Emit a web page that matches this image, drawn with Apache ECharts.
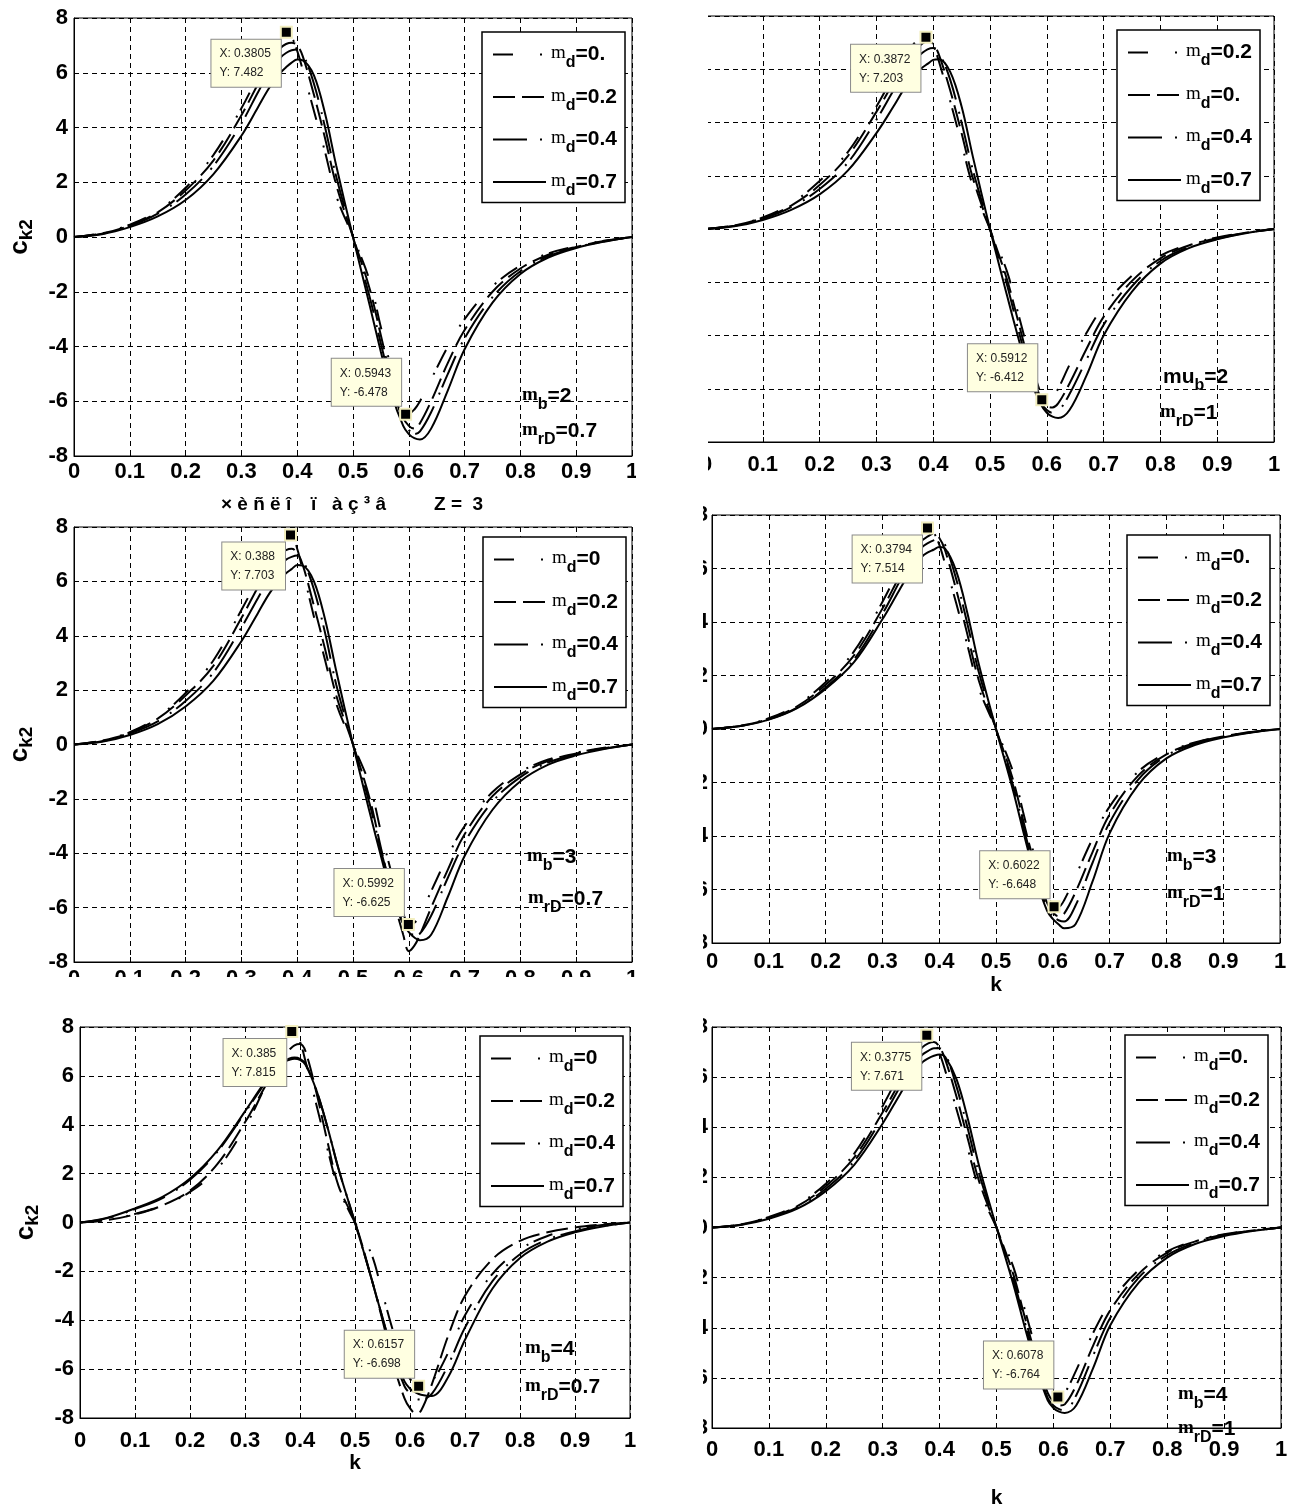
<!DOCTYPE html>
<html><head><meta charset="utf-8">
<script src="https://cdn.jsdelivr.net/npm/echarts@6/dist/echarts.min.js"></script>
<style>html,body{margin:0;padding:0;background:#fff}#c{width:1291px;height:1510px}</style>
</head><body><div id="c"></div>
<script>
// ---------------- DATA ----------------
const X = [0,0.05,0.1,0.15,0.2,0.25,0.3,0.33,0.35,0.37,0.38,0.39,0.4,0.41,0.43,0.45,0.47,0.5,0.53,0.55,0.57,0.59,0.6,0.61,0.62,0.64,0.67,0.7,0.75,0.8,0.85,0.9,0.95,1];
const xTicks = [0,0.1,0.2,0.3,0.4,0.5,0.6,0.7,0.8,0.9,1];
const yTicks = [-8,-6,-4,-2,0,2,4,6,8];

// panel 1: mb=2, mrD=0.7
const p1a = [0,0.15,0.45,0.95,1.8,3.0,4.7,5.9,6.7,7.3,7.48,7.3,6.8,6.1,4.6,3.1,1.5,0,-1.6,-3.3,-4.9,-6.3,-6.45,-6.3,-6.0,-5.2,-4.0,-3.0,-1.8,-1.05,-0.6,-0.33,-0.14,0];
const p1b = [0,0.13,0.42,0.9,1.7,2.8,4.45,5.6,6.35,6.9,7.05,7.1,7.0,6.6,5.2,3.6,1.9,0,-1.9,-3.6,-5.3,-6.6,-6.9,-7.0,-6.8,-6.0,-4.6,-3.4,-2.0,-1.15,-0.65,-0.36,-0.15,0];
const p1c = [0,0.12,0.4,0.85,1.55,2.6,4.15,5.3,6.0,6.55,6.72,6.82,6.85,6.7,5.6,4.0,2.2,0,-2.2,-3.9,-5.5,-6.7,-7.05,-7.2,-7.1,-6.4,-5.0,-3.7,-2.2,-1.25,-0.7,-0.38,-0.16,0];
const p1d = [0,0.1,0.36,0.75,1.35,2.3,3.7,4.75,5.45,6.0,6.2,6.37,6.48,6.45,5.9,4.5,2.6,0,-2.5,-4.2,-5.8,-6.9,-7.2,-7.35,-7.4,-7.0,-5.6,-4.1,-2.4,-1.35,-0.75,-0.4,-0.17,0];
// panel 2: mb=2, mrD=1
const p2a = [0,0.14,0.43,0.95,1.8,2.9,4.6,5.75,6.5,7.05,7.17,7.2,6.9,6.3,4.8,3.2,1.6,0,-1.6,-3.2,-4.8,-6.2,-6.4,-6.3,-6.0,-5.1,-3.9,-2.9,-1.75,-1.0,-0.58,-0.32,-0.13,0];
const p2b = [0,0.13,0.41,0.88,1.65,2.75,4.4,5.5,6.2,6.75,6.95,7.05,6.95,6.55,5.2,3.6,1.9,0,-1.9,-3.5,-5.1,-6.4,-6.65,-6.7,-6.55,-5.8,-4.5,-3.3,-1.95,-1.1,-0.62,-0.34,-0.14,0];
const p2c = [0,0.12,0.38,0.82,1.5,2.5,4.1,5.2,5.9,6.4,6.6,6.75,6.8,6.65,5.6,4.0,2.2,0,-2.1,-3.8,-5.3,-6.5,-6.8,-6.9,-6.85,-6.2,-4.9,-3.6,-2.15,-1.2,-0.68,-0.37,-0.15,0];
const p2d = [0,0.1,0.34,0.72,1.3,2.2,3.6,4.6,5.3,5.85,6.05,6.2,6.35,6.38,5.9,4.6,2.7,0,-2.5,-4.1,-5.6,-6.6,-6.9,-7.05,-7.1,-6.8,-5.5,-4.0,-2.35,-1.3,-0.72,-0.39,-0.16,0];
// panel 3: mb=3, mrD=0.7
const p3a = [0,0.15,0.45,1.0,1.9,3.1,4.95,6.1,6.9,7.45,7.65,7.7,7.2,6.4,4.7,3.1,1.5,0,-1.5,-3.2,-4.8,-6.2,-6.6,-6.55,-6.3,-5.4,-4.1,-3.0,-1.75,-1.0,-0.55,-0.3,-0.12,0];
const p3b = [0,0.14,0.43,0.95,1.8,2.9,4.65,5.8,6.5,7.0,7.15,7.2,7.05,6.6,5.1,3.5,1.8,0,-2.0,-3.8,-5.5,-7.0,-7.6,-7.4,-7.0,-6.0,-4.6,-3.3,-1.9,-1.1,-0.6,-0.33,-0.14,0];
const p3c = [0,0.12,0.4,0.85,1.6,2.65,4.3,5.4,6.1,6.6,6.8,6.9,6.95,6.8,5.7,4.1,2.2,0,-2.2,-3.9,-5.4,-6.6,-6.9,-7.0,-6.95,-6.3,-4.9,-3.6,-2.1,-1.2,-0.66,-0.36,-0.15,0];
const p3d = [0,0.1,0.35,0.75,1.4,2.35,3.8,4.85,5.55,6.1,6.3,6.45,6.6,6.58,6.0,4.6,2.7,0,-2.5,-4.1,-5.6,-6.6,-6.9,-7.1,-7.2,-7.0,-5.6,-4.1,-2.4,-1.35,-0.74,-0.4,-0.17,0];
// panel 4: mb=3, mrD=1
const p4a = [0,0.12,0.4,0.9,1.75,2.9,4.75,6.0,6.8,7.4,7.5,7.35,6.9,6.2,4.7,3.1,1.5,0,-1.6,-3.3,-4.9,-6.2,-6.55,-6.65,-6.4,-5.5,-4.1,-2.9,-1.6,-0.9,-0.5,-0.27,-0.11,0];
const p4b = [0,0.12,0.38,0.85,1.65,2.75,4.5,5.7,6.45,7.05,7.2,7.3,7.15,6.7,5.2,3.5,1.8,0,-1.9,-3.6,-5.2,-6.5,-6.85,-7.0,-6.9,-6.1,-4.6,-3.2,-1.75,-0.95,-0.52,-0.28,-0.11,0];
const p4c = [0,0.11,0.36,0.8,1.55,2.6,4.3,5.5,6.25,6.8,6.95,7.05,7.1,6.9,5.6,3.9,2.1,0,-2.1,-3.8,-5.4,-6.7,-7.0,-7.15,-7.2,-6.6,-5.0,-3.5,-1.9,-1.0,-0.55,-0.3,-0.12,0];
const p4d = [0,0.11,0.35,0.78,1.5,2.5,4.1,5.2,5.9,6.45,6.6,6.7,6.8,6.75,5.9,4.3,2.4,0,-2.3,-4.0,-5.6,-6.8,-7.1,-7.3,-7.45,-7.3,-5.7,-3.9,-2.1,-1.1,-0.6,-0.32,-0.13,0];
// panel 5: mb=4, mrD=0.7
const p5a = [0,0.1,0.35,0.7,1.25,2.2,3.9,5.25,6.3,7.3,7.7,7.8,7.4,6.6,4.8,3.0,1.4,0,-1.3,-2.9,-4.5,-5.9,-6.4,-6.6,-6.7,-6.5,-5.3,-3.8,-2.1,-1.1,-0.55,-0.28,-0.1,0];
const p5b = [0,0.1,0.33,0.7,1.3,2.4,4.1,5.3,6.1,6.8,7.05,7.25,7.3,7.0,5.3,3.3,1.5,0,-2.3,-4.0,-5.8,-7.2,-7.6,-7.8,-7.7,-6.6,-4.6,-3.0,-1.5,-0.75,-0.4,-0.2,-0.08,0];
const p5c = [0,0.18,0.55,1.0,1.75,2.9,4.5,5.5,6.1,6.55,6.7,6.75,6.7,6.5,5.4,3.9,2.2,0,-2.3,-3.9,-5.5,-6.7,-7.0,-7.2,-7.25,-7.0,-5.8,-4.3,-2.4,-1.3,-0.7,-0.36,-0.15,0];
const p5d = [0,0.2,0.58,1.05,1.8,2.95,4.55,5.55,6.15,6.55,6.65,6.7,6.65,6.45,5.4,3.9,2.2,0,-2.3,-3.9,-5.4,-6.5,-6.8,-6.95,-7.05,-7.1,-6.3,-4.8,-2.7,-1.45,-0.78,-0.4,-0.16,0];
// panel 6: mb=4, mrD=1
const p6a = [0,0.12,0.42,0.9,1.75,2.95,4.85,6.15,6.95,7.55,7.67,7.45,6.95,6.25,4.7,3.1,1.5,0,-1.6,-3.3,-4.9,-6.3,-6.7,-6.76,-6.6,-5.7,-4.2,-3.0,-1.7,-0.95,-0.52,-0.27,-0.11,0];
const p6b = [0,0.12,0.4,0.85,1.65,2.8,4.6,5.8,6.6,7.2,7.35,7.4,7.2,6.7,5.2,3.5,1.8,0,-1.9,-3.6,-5.2,-6.6,-6.95,-7.1,-7.05,-6.3,-4.7,-3.3,-1.85,-1.0,-0.55,-0.29,-0.12,0];
const p6c = [0,0.11,0.38,0.8,1.55,2.65,4.4,5.6,6.35,6.9,7.05,7.15,7.15,6.95,5.6,3.9,2.1,0,-2.1,-3.8,-5.4,-6.8,-7.1,-7.25,-7.3,-6.7,-5.1,-3.6,-2.0,-1.1,-0.6,-0.31,-0.13,0];
const p6d = [0,0.1,0.35,0.75,1.45,2.5,4.15,5.3,6.05,6.6,6.75,6.85,6.9,6.8,5.9,4.3,2.4,0,-2.3,-4.0,-5.6,-6.9,-7.2,-7.35,-7.4,-7.1,-5.6,-3.9,-2.2,-1.2,-0.65,-0.34,-0.14,0];

// data tips [x, y]
const tipPeak = [[0.3805,7.482],[0.3872,7.203],[0.388,7.703],[0.3794,7.514],[0.385,7.815],[0.3775,7.671]];
const tipLow  = [[0.5943,-6.478],[0.5912,-6.412],[0.5992,-6.625],[0.6022,-6.648],[0.6157,-6.698],[0.6078,-6.764]];

// legend labels (md values) per panel
const legendMd = [['0.','0.2','0.4','0.7'],['0.2','0.','0.4','0.7'],['0','0.2','0.4','0.7'],['0.','0.2','0.4','0.7'],['0','0.2','0.4','0.7'],['0.','0.2','0.4','0.7']];
const mbLabel = [['m','2'],['mu','2'],['m','3'],['m','3'],['m','4'],['m','4']];
const mrdLabel = ['0.7','1','0.7','1','0.7','1'];
const titleParts = ['× è ñ ë î', 'ï   à ç ³ â', 'Z =  3'];

// ---------------- LAYOUT / STYLE ----------------
const curves = [[p1a,p1b,p1c,p1d],[p2a,p2b,p2c,p2d],[p3a,p3b,p3c,p3d],[p4a,p4b,p4c,p4d],[p5a,p5b,p5c,p5d],[p6a,p6b,p6c,p6d]];
const layout = [
  {left:74, top:18, width:558, height:438, xm:5, ym:6, yName:true, legend:[482,32], mb:[522,381], mrd:[522,416]},
  {left:706, top:16, width:568, height:426, xm:12, ym:4, yName:false, legend:[1117,30], mb:[1163,362], mrd:[1160,398]},
  {left:74, top:527, width:558, height:435, xm:6, ym:6, yName:true, legend:[483,537], mb:[527,842], mrd:[528,884]},
  {left:712, top:515, width:568, height:428, xm:8, ym:4, yName:false, legend:[1127,535], mb:[1167,842], mrd:[1167,879], xName:32},
  {left:80, top:1027, width:550, height:391, xm:12, ym:6, yName:true, legend:[480,1036], mb:[525,1334], mrd:[525,1372], xName:32},
  {left:712, top:1027, width:569, height:402, xm:11, ym:4, yName:false, legend:[1125,1035], mb:[1178,1380], mrd:[1178,1414], xName:60}
];
const dashes = [[20,27,2,6],[22,7],[34,13,2,6],'solid'];

const SANS = '"Liberation Sans", Arial, Helvetica, sans-serif';
const NARROW = '"Liberation Sans Narrow", "Liberation Sans", Arial, sans-serif';
const SERIF = '"Liberation Serif", "Times New Roman", serif';

const symRich = {
  m: {fontFamily: SERIF, fontSize: 19, color: '#000', lineHeight: 16, padding: [0,0,2,0]},
  s: {fontFamily: SANS, fontWeight: 'bold', fontSize: 16, color: '#000', lineHeight: 13, padding: [17,0,0,0]},
  v: {fontFamily: SANS, fontWeight: 'bold', fontSize: 21, color: '#000', lineHeight: 30}
};
const tipRich = {t: {fontFamily: SANS, fontSize: 12, color: '#222', lineHeight: 19, align: 'left'}};

const grids = [], xAxes = [], yAxes = [], series = [], legends = [], titles = [];
const fmtX = v => (Math.abs(v) < 1e-9 ? '0' : (Math.abs(v-1) < 1e-9 ? '1' : String(Math.round(v*10)/10)));

layout.forEach((L, i) => {
  grids.push({left: L.left, top: L.top, width: L.width, height: L.height, show: true, borderColor: '#000', borderWidth: 1, backgroundColor: 'transparent'});
  xAxes.push({
    type: 'value', gridIndex: i, min: xTicks[0], max: xTicks[xTicks.length-1], interval: 0.1,
    axisLine: {onZero: false, lineStyle: {color: '#000', width: 1}},
    axisTick: {inside: true, length: 5, lineStyle: {color: '#000'}},
    axisLabel: {margin: L.xm, color: '#000', fontFamily: NARROW, fontWeight: 'bold', fontSize: 22, formatter: fmtX},
    splitLine: {show: true, lineStyle: {color: '#000', type: [5,4], width: 1}},
    name: L.xName ? 'k' : '', nameLocation: 'middle', nameGap: L.xName || 0,
    nameTextStyle: {color: '#000', fontFamily: SANS, fontWeight: 'bold', fontSize: 21}
  });
  yAxes.push({
    type: 'value', gridIndex: i, min: yTicks[0], max: yTicks[yTicks.length-1], interval: 2,
    axisLine: {onZero: false, lineStyle: {color: '#000', width: 1}},
    axisTick: {inside: true, length: 5, lineStyle: {color: '#000'}},
    axisLabel: {margin: L.ym, color: '#000', fontFamily: NARROW, fontWeight: 'bold', fontSize: 22},
    splitLine: {show: true, lineStyle: {color: '#000', type: [5,4], width: 1}},
    name: L.yName ? '{c|c}{s|k2}' : '', nameLocation: 'middle', nameGap: 42, nameRotate: 90,
    nameTextStyle: {rich: {
      c: {fontFamily: SANS, fontWeight: 'bold', fontSize: 26, color: '#000', lineHeight: 24},
      s: {fontFamily: SANS, fontWeight: 'bold', fontSize: 19, color: '#000', lineHeight: 18, padding: [14,0,0,0]}
    }}
  });
  const names = [];
  curves[i].forEach((arr, j) => {
    const nm = 'P' + (i+1) + '_' + j;
    names.push(nm);
    const s = {
      name: nm, type: 'line', xAxisIndex: i, yAxisIndex: i,
      data: X.map((x, k) => [x, arr[k]]),
      symbol: 'none', smooth: 0.35,
      lineStyle: {color: '#000', width: 2, type: dashes[j]},
      itemStyle: {color: '#000'},
      z: 3
    };
    if (j === 0) {
      const tipLabel = (pt) => '{t|X: ' + pt[0] + '}\n{t|Y: ' + pt[1] + '}';
      const base = {rich: tipRich, backgroundColor: '#ffffe1', borderColor: '#8a8a8a', borderWidth: 1,
        padding: [5,10,4,8], align: 'right'};
      s.markPoint = {
        symbol: 'rect', symbolSize: 11,
        itemStyle: {color: '#000', borderColor: '#f2eebf', borderWidth: 2},
        z: 10,
        data: [
          {coord: tipPeak[i], label: Object.assign({show: true, formatter: tipLabel(tipPeak[i]), position: [1, 14], verticalAlign: 'top'}, base)},
          {coord: tipLow[i], label: Object.assign({show: true, formatter: tipLabel(tipLow[i]), position: [2, -2], verticalAlign: 'bottom'}, base)}
        ]
      };
    }
    series.push(s);
  });
  const md = legendMd[i];
  legends.push({
    data: names, orient: 'vertical', left: L.legend[0], top: L.legend[1],
    itemWidth: 53, itemHeight: 14, itemGap: 9.5, itemStyle: {color: 'rgba(0,0,0,0)', borderWidth: 0, opacity: 0},
    selectedMode: false,
    borderColor: '#000', borderWidth: 1.5, backgroundColor: '#fff', padding: [6, 8, 4, 10],
    textStyle: {rich: symRich},
    formatter: (name) => { const j = +name.split('_')[1]; return '{m|m}{s|d}{v|=' + md[j] + '}'; }
  });
  const mb = mbLabel[i];
  titles.push({
    text: (mb[0] === 'm' ? '{m|m}' : '{v|mu}') + '{s|b}{v|=' + mb[1] + '}',
    left: L.mb[0], top: L.mb[1], padding: 0, textStyle: {rich: symRich}
  });
  titles.push({
    text: '{m|m}{s|rD}{v|=' + mrdLabel[i] + '}',
    left: L.mrd[0], top: L.mrd[1], padding: 0, textStyle: {rich: symRich}
  });
});
[221, 311, 434].forEach((lx, k) => {
  titles.push({text: titleParts[k], left: lx, top: 495, padding: 0,
    textStyle: {fontFamily: SANS, fontWeight: 'bold', fontSize: 19, color: '#000'}});
});

const chart = echarts.init(document.getElementById('c'), null, {renderer: 'canvas'});
chart.setOption({
  animation: false,
  backgroundColor: '#fff',
  grid: grids, xAxis: xAxes, yAxis: yAxes, series: series, legend: legends, title: titles,
  graphic: [
    {type: 'rect', shape: {x: 636, y: 0, width: 67, height: 1510}, style: {fill: '#fff'}, z: 100},
    {type: 'rect', shape: {x: 636, y: 0, width: 72, height: 480}, style: {fill: '#fff'}, z: 100},
    {type: 'rect', shape: {x: 0, y: 977, width: 640, height: 36}, style: {fill: '#fff'}, z: 100}
  ]
});
</script>
</body></html>
